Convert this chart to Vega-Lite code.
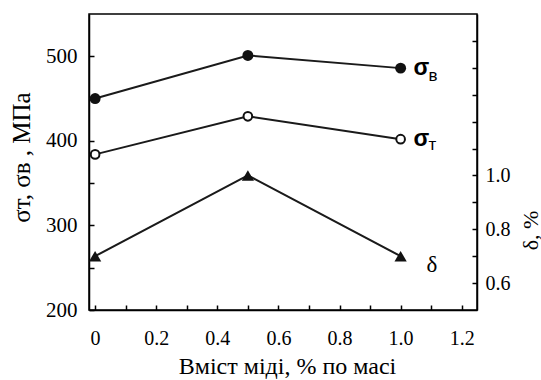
{
  "$schema": "https://vega.github.io/schema/vega-lite/v6.json",
  "width": 388,
  "height": 296,
  "autosize": {"type": "none"},
  "padding": {"left": 89, "top": 14, "right": 64, "bottom": 70},
  "background": "white",
  "config": {
    "view": {"stroke": "black", "strokeWidth": 1.5},
    "axis": {
      "labelFont": "Liberation Serif, Times New Roman, serif",
      "titleFont": "Liberation Serif, Times New Roman, serif",
      "labelColor": "black",
      "titleColor": "black",
      "domainColor": "black",
      "tickColor": "black",
      "grid": false,
      "titleFontWeight": "normal",
      "labelFontSize": 20,
      "titleFontSize": 22,
      "tickSize": -5,
      "domainWidth": 1.5,
      "tickWidth": 1.5,
      "labelOverlap": false,
      "labelFlush": false
    }
  },
  "data": {
    "values": [
      {"cu": 0, "s": "sb", "v": 450},
      {"cu": 0.5, "s": "sb", "v": 501},
      {"cu": 1, "s": "sb", "v": 486},
      {"cu": 0, "s": "st", "v": 384},
      {"cu": 0.5, "s": "st", "v": 429},
      {"cu": 1, "s": "st", "v": 402},
      {"cu": 0, "s": "d", "v": 0.7},
      {"cu": 0.5, "s": "d", "v": 1.0},
      {"cu": 1, "s": "d", "v": 0.7}
    ]
  },
  "encoding": {
    "x": {
      "field": "cu",
      "type": "quantitative",
      "scale": {"domain": [-0.02, 1.25], "nice": false, "zero": false},
      "axis": {
        "title": "Вміст міді, % по масі",
        "values": [0, 0.1, 0.2, 0.3, 0.4, 0.5, 0.6, 0.7, 0.8, 0.9, 1.0, 1.1, 1.2],
        "labelExpr": "round(datum.value*10) % 2 == 0 ? (datum.value == 0 ? '0' : format(datum.value, '.1f')) : ''",
        "labelFont": "Liberation Serif, Times New Roman, serif",
        "titleFont": "Liberation Serif, Times New Roman, serif",
        "labelColor": "black",
        "titleColor": "black",
        "labelFontSize": 20,
        "labelPadding": 23,
        "tickSize": -5,
        "titleX": 198,
        "titleY": 63,
        "titleBaseline": "alphabetic",
        "titleFontSize": 24,
        "titleFontWeight": "normal"
      }
    }
  },
  "layer": [
    {
      "transform": [{"filter": "datum.s != 'd'"}],
      "encoding": {
        "y": {
          "field": "v",
          "type": "quantitative",
          "scale": {"domain": [200, 550], "nice": false, "zero": false},
          "axis": {
            "orient": "left",
            "title": "σт, σв , МПа",
            "values": [200, 250, 300, 350, 400, 450, 500],
            "labelExpr": "datum.value % 100 == 0 ? datum.label : ''",
            "labelFont": "Liberation Serif, Times New Roman, serif",
            "titleFont": "Liberation Serif, Times New Roman, serif",
            "labelColor": "black",
            "titleColor": "black",
            "titleFontWeight": "normal",
            "tickSize": -5,
            "labelPadding": 17,
            "labelFontSize": 21,
            "titleFontSize": 25,
            "titleX": -68,
            "titleY": 143,
            "titleAngle": -90,
            "titleAlign": "center",
            "titleBaseline": "middle"
          }
        }
      },
      "layer": [
        {
          "mark": {"type": "line", "color": "#1a1a1a", "strokeWidth": 2},
          "encoding": {"detail": {"field": "s"}}
        },
        {
          "transform": [{"filter": "datum.s == 'sb'"}],
          "mark": {"type": "point", "shape": "circle", "filled": true, "color": "#111111", "size": 120, "opacity": 1}
        },
        {
          "transform": [{"filter": "datum.s == 'st'"}],
          "mark": {"type": "point", "shape": "circle", "filled": true, "fill": "white", "stroke": "#111111", "strokeWidth": 2, "size": 75, "opacity": 1}
        },
        {
          "transform": [{"filter": "datum.cu == 1"}],
          "mark": {"type": "text", "text": "σ", "font": "Liberation Sans, Arial, sans-serif", "fontWeight": "bold", "fontSize": 23, "align": "left", "baseline": "middle", "dx": 13, "dy": 0, "color": "black"}
        },
        {
          "transform": [{"filter": "datum.s == 'sb' && datum.cu == 1"}],
          "mark": {"type": "text", "text": "в", "font": "Liberation Sans, Arial, sans-serif", "fontSize": 17, "align": "left", "baseline": "middle", "dx": 28, "dy": 8, "color": "black"}
        },
        {
          "transform": [{"filter": "datum.s == 'st' && datum.cu == 1"}],
          "mark": {"type": "text", "text": "т", "font": "Liberation Sans, Arial, sans-serif", "fontSize": 17, "align": "left", "baseline": "middle", "dx": 28, "dy": 6, "color": "black"}
        }
      ]
    },
    {
      "transform": [{"filter": "datum.s == 'd'"}],
      "encoding": {
        "y": {
          "field": "v",
          "type": "quantitative",
          "scale": {"domain": [0.5, 1.6], "nice": false, "zero": false},
          "axis": {
            "orient": "right",
            "title": "δ, %",
            "values": [0.6, 0.7, 0.8, 0.9, 1.0, 1.1, 1.2, 1.3, 1.4, 1.5],
            "labelExpr": "datum.value < 1.05 && round(datum.value*10) % 2 == 0 ? format(datum.value, '.1f') : ''",
            "labelFont": "Liberation Serif, Times New Roman, serif",
            "titleFont": "Liberation Serif, Times New Roman, serif",
            "labelColor": "black",
            "titleColor": "black",
            "titleFontWeight": "normal",
            "labelFontSize": 20,
            "tickSize": -5,
            "labelPadding": 13,
            "titleFontSize": 22,
            "titleX": 53,
            "titleY": 216,
            "titleAngle": -90,
            "titleAlign": "center",
            "titleBaseline": "middle"
          }
        }
      },
      "layer": [
        {
          "mark": {"type": "line", "color": "#1a1a1a", "strokeWidth": 2},
          "encoding": {}
        },
        {
          "mark": {"type": "point", "shape": "triangle-up", "filled": true, "color": "#111111", "size": 150, "opacity": 1}
        },
        {
          "transform": [{"filter": "datum.cu == 1"}],
          "mark": {"type": "text", "text": "δ", "font": "Liberation Serif, Times New Roman, serif", "fontSize": 23, "align": "left", "baseline": "alphabetic", "dx": 26, "dy": 16, "color": "black"}
        }
      ]
    }
  ],
  "resolve": {"scale": {"y": "independent"}}
}
